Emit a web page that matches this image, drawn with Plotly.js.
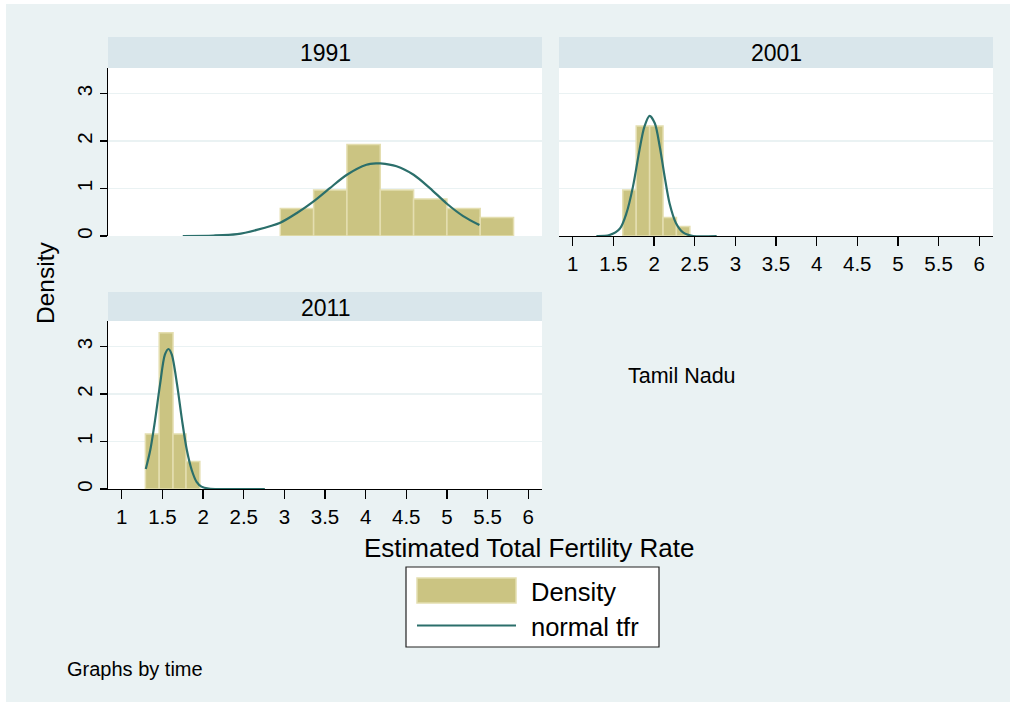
<!DOCTYPE html>
<html>
<head>
<meta charset="utf-8">
<script src="https://cdn.plot.ly/plotly-3.0.1.min.js"></script>
<style>html,body{margin:0;padding:0;background:#fff;}#chart{width:1016px;height:706px;}</style>
</head>
<body>
<div id="chart"></div>
<script>
// ---- Data ----
const panelTitles = ["1991", "2001", "2011"];
const xTickVals = [1, 1.5, 2, 2.5, 3, 3.5, 4, 4.5, 5, 5.5, 6];
const xTickText = ["1", "1.5", "2", "2.5", "3", "3.5", "4", "4.5", "5", "5.5", "6"];
const yTickVals = [0, 1, 2, 3];

// histogram bin edges and densities
const edges1991 = [2.95, 3.36, 3.77, 4.18, 4.59, 5.00, 5.41, 5.82];
const dens1991 = [0.58, 0.97, 1.93, 0.97, 0.78, 0.58, 0.39];
const edges2001 = [1.615, 1.78, 1.945, 2.11, 2.275, 2.44];
const dens2001 = [0.97, 2.32, 2.32, 0.39, 0.20];
const edges2011 = [1.29, 1.46, 1.63, 1.79, 1.96];
const dens2011 = [1.16, 3.29, 1.16, 0.58];

// normal curve points
const curve1991X = [1.75, 2.13, 2.42, 2.66, 2.95, 3.15, 3.36, 3.56, 3.77, 4.01, 4.13, 4.18, 4.38, 4.59, 4.79, 5.00, 5.20, 5.40];
const curve1991Y = [0.00, 0.01, 0.04, 0.13, 0.28, 0.48, 0.73, 1.01, 1.29, 1.50, 1.53, 1.53, 1.47, 1.29, 1.01, 0.68, 0.42, 0.23];
const curve2001X = [1.29, 1.45, 1.58, 1.66, 1.74, 1.82, 1.88, 1.945, 2.01, 2.07, 2.13, 2.19, 2.27, 2.36, 2.48, 2.77];
const curve2001Y = [0.00, 0.02, 0.16, 0.48, 1.04, 1.81, 2.30, 2.53, 2.37, 1.88, 1.25, 0.69, 0.27, 0.07, 0.00, 0.00];
const curve2011X = [1.295, 1.35, 1.41, 1.47, 1.53, 1.574, 1.615, 1.68, 1.74, 1.80, 1.86, 1.92, 1.98, 2.07, 2.76];
const curve2011Y = [0.42, 0.82, 1.46, 2.20, 2.83, 2.95, 2.83, 2.20, 1.46, 0.82, 0.40, 0.15, 0.05, 0.01, 0.00];

const legendLabels = ["Density", "normal tfr"];
const noteText = "Graphs by time";
const sideText = "Tamil Nadu";
const xTitle = "Estimated Total Fertility Rate";
const yTitle = "Density";

// ---- styling ----
const W = 1016, H = 706;
const FONT = "Liberation Sans, Arial, sans-serif";
const BG = "#EAF2F3";
const STRIP = "#D9E6EB";
const BARFILL = "#CBC482";
const BARLINE = "#E4DEB0";
const CURVE = "#2B6F6B";
const fx = px => px / W;
const fy = py => 1 - py / H;

function histTrace(edges, dens, xa, ya) {
  const lefts = edges.slice(0, -1);
  const widths = lefts.map((e, i) => edges[i + 1] - e);
  return {
    type: "bar", x: lefts, y: dens, width: widths, offset: 0,
    xaxis: xa, yaxis: ya, showlegend: false, hoverinfo: "x+y",
    marker: {color: BARFILL, line: {color: BARLINE, width: 1.5}}
  };
}
function curveTrace(xs, ys, xa, ya) {
  return {
    type: "scatter", mode: "lines", x: xs, y: ys, xaxis: xa, yaxis: ya,
    showlegend: false, line: {color: CURVE, width: 2.2, shape: "spline", smoothing: 0.8}
  };
}

const data = [
  histTrace(edges1991, dens1991, "x", "y"),
  curveTrace(curve1991X, curve1991Y, "x", "y"),
  histTrace(edges2001, dens2001, "x2", "y2"),
  curveTrace(curve2001X, curve2001Y, "x2", "y2"),
  histTrace(edges2011, dens2011, "x3", "y3"),
  curveTrace(curve2011X, curve2011Y, "x3", "y3")
];

const xRange = [0.83, 6.17];
const yRange = [0, 3.54];
const tickFont = {family: FONT, size: 20.5, color: "#000"};

function xAxis(domain, anchor, show) {
  return {
    domain: domain, anchor: anchor, range: xRange, showgrid: false, zeroline: false,
    tickmode: "array", tickvals: xTickVals, ticktext: xTickText,
    showline: show, linecolor: "#000", linewidth: 1.3,
    ticks: show ? "outside" : "", ticklen: 9, tickwidth: 1.3, tickcolor: "#000",
    showticklabels: show, tickfont: tickFont, fixedrange: true
  };
}
function yAxis(domain, anchor, show) {
  return {
    domain: domain, anchor: anchor, range: yRange, zeroline: false,
    showgrid: true, gridcolor: BG, gridwidth: 1.6,
    tickmode: "array", tickvals: yTickVals,
    showline: show, linecolor: "#000", linewidth: 1.3,
    ticks: show ? "outside" : "", ticklen: 7, tickwidth: 1.3, tickcolor: "#000",
    showticklabels: show, tickfont: tickFont, tickangle: -90, fixedrange: true
  };
}

const colL = [fx(108), fx(542)];
const colR = [fx(559), fx(993)];
const rowT = [fy(236), fy(68)];
const rowB = [fy(489), fy(321)];

const shapes = [];
const annotations = [];
function rectPx(x0, y0, x1, y1, fill, line, lw) {
  shapes.push({type: "rect", xref: "paper", yref: "paper", x0: fx(x0), x1: fx(x1), y0: fy(y1), y1: fy(y0),
    fillcolor: fill, line: {color: line || fill, width: lw || 0}, layer: "above"});
}
function textPx(x, y, text, size, anchor, angle) {
  annotations.push({xref: "paper", yref: "paper", x: fx(x), y: fy(y), text: text, showarrow: false,
    xanchor: anchor || "center", yanchor: "middle", textangle: angle || 0,
    font: {family: FONT, size: size, color: "#000"}});
}

// white outer frame
rectPx(0, 0, W, 4, "#fff");
rectPx(0, H - 4, W, H, "#fff");
rectPx(0, 0, 6, H, "#fff");
rectPx(W - 6, 0, W, H, "#fff");

// strips
const strips = [[108, 37, 542, 68], [559, 37, 993, 68], [108, 292, 542, 321]];
strips.forEach((s, i) => {
  rectPx(s[0], s[1], s[2], s[3], STRIP);
  textPx((s[0] + s[2]) / 2, (s[1] + s[3]) / 2 + 1, panelTitles[i], 23);
});

// titles and notes
textPx(529, 548, xTitle, 26);
textPx(45, 283, yTitle, 24.5, "center", -90);
textPx(682, 376, sideText, 21.5);
textPx(65, 669, noteText, 20, "left");

// legend
rectPx(406, 567, 659, 647, "#fff", "#222", 1.2);
rectPx(417, 578, 516, 603, BARFILL, BARLINE, 1.5);
shapes.push({type: "line", xref: "paper", yref: "paper", x0: fx(417), x1: fx(516), y0: fy(625.5), y1: fy(625.5),
  line: {color: CURVE, width: 2.2}, layer: "above"});
textPx(529, 592, legendLabels[0], 25.5, "left");
textPx(529, 627, legendLabels[1], 25.5, "left");

const layout = {
  width: W, height: H,
  margin: {l: 0, r: 0, t: 0, b: 0},
  paper_bgcolor: BG, plot_bgcolor: "#fff",
  showlegend: false, bargap: 0,
  font: {family: FONT, color: "#000"},
  xaxis: xAxis(colL, "y", false),
  yaxis: yAxis(rowT, "x", true),
  xaxis2: xAxis(colR, "y2", true),
  yaxis2: yAxis(rowT, "x2", false),
  xaxis3: xAxis(colL, "y3", true),
  yaxis3: yAxis(rowB, "x3", true),
  shapes: shapes, annotations: annotations
};

Plotly.newPlot("chart", data, layout, {staticPlot: true, displayModeBar: false});
</script>
</body>
</html>
